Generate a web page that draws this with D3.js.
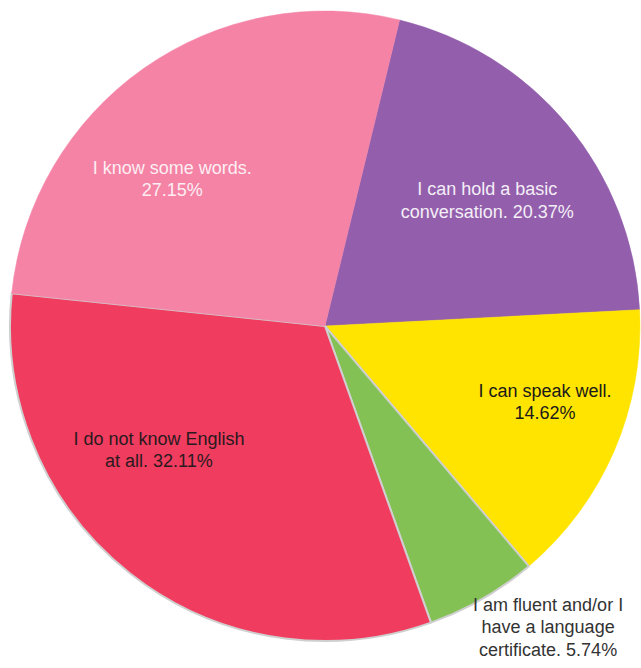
<!DOCTYPE html>
<html><head><meta charset="utf-8">
<script src="https://cdn.jsdelivr.net/npm/d3@7"></script>
<style>body{margin:0;background:#fff}svg{display:block}</style>
</head><body>
<script>
// ---- data ----
const categories = [
  "I can hold a basic conversation.",
  "I can speak well.",
  "I am fluent and/or I have a language certificate.",
  "I do not know English at all.",
  "I know some words."
];
const values = [20.37, 14.62, 5.74, 32.11, 27.15];
const labelLines = [
  ["I can hold a basic", "conversation. 20.37%"],
  ["I can speak well.", "14.62%"],
  ["I am fluent and/or I", "have a language", "certificate. 5.74%"],
  ["I do not know English", "at all. 32.11%"],
  ["I know some words.", "27.15%"]
];

// ---- style / layout ----
const colors = ["#935FAC", "#FFE400", "#84C155", "#F03C5E", "#F483A6"];
const textColors = ["#F4EEF7", "#1a1a1a", "#333333", "#2a1a1e", "#FDEEF3"];
const edgeColors = [null, null, "#cfcfcf", "#cfcfcf", null];
// label anchor (angle in degrees from 12 o'clock, radius as fraction of R)
const labelPolar = [[53.6, 0.64], [110.4, 0.745], [144, 1.205], [231.9, 0.67], [312.7, 0.66]];

const W = 641, H = 668, cx = 325, cy = 326, R = 315;
const startDeg = 13.7;

const svg = d3.select("body").append("svg").attr("width", W).attr("height", H);
const g = svg.append("g").attr("transform", `translate(${cx},${cy})`);

const pie = d3.pie().sort(null).value(d => d)
  .startAngle(startDeg * Math.PI / 180)
  .endAngle(startDeg * Math.PI / 180 + 2 * Math.PI);
const arcs = pie(values);
const arc = d3.arc().innerRadius(0).outerRadius(R);

g.selectAll("path.slice").data(arcs).enter().append("path")
  .attr("class", "slice")
  .attr("d", arc)
  .attr("fill", (d, i) => colors[i])
  .attr("stroke", (d, i) => edgeColors[i] || colors[i])
  .attr("stroke-width", (d, i) => edgeColors[i] ? 2 : 0.5)
  .attr("stroke-linejoin", "round");

const lh = 22.5;
labelLines.forEach((lines, i) => {
  const a = labelPolar[i][0] * Math.PI / 180, r = labelPolar[i][1] * R;
  const x = r * Math.sin(a), y = -r * Math.cos(a);
  const t = g.append("text")
    .attr("text-anchor", "middle")
    .attr("font-family", "'Liberation Sans', Arial, sans-serif")
    .attr("font-size", 18)
    .attr("fill", textColors[i]);
  const y0 = y - (lines.length - 1) * lh / 2;
  lines.forEach((s, k) => {
    t.append("tspan").attr("x", x).attr("y", y0 + k * lh).text(s);
  });
});
</script>
</body></html>
